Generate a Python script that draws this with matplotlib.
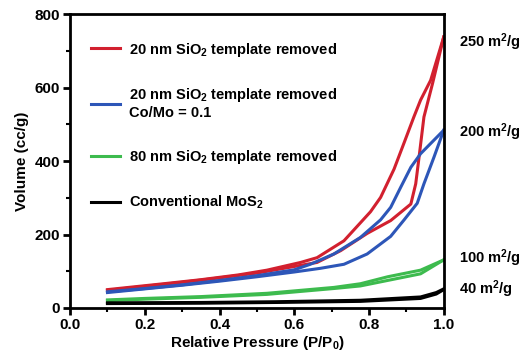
import numpy as np
import matplotlib
matplotlib.use('Agg')
from matplotlib import pyplot as plt
from matplotlib.ticker import MultipleLocator

plt.rcParams['font.family'] = 'Liberation Sans'
plt.rcParams['font.weight'] = 'bold'
plt.rcParams['mathtext.fontset'] = 'custom'
plt.rcParams['mathtext.rm'] = 'Liberation Sans:bold'
plt.rcParams['mathtext.bf'] = 'Liberation Sans:bold'
plt.rcParams['mathtext.default'] = 'bf'

# red: 20 nm SiO2 template removed
red_ads_p = [0.10, 0.20, 0.30, 0.40, 0.50, 0.60, 0.661, 0.724, 0.795, 0.858, 0.912, 0.925, 0.934, 0.947, 0.97, 1.00]
red_ads_v = [48, 59, 70, 82, 95, 113, 124, 156, 203, 238, 283, 338, 411, 520, 611, 738]
red_des_p = [1.00, 0.965, 0.938, 0.92, 0.894, 0.867, 0.831, 0.804, 0.733, 0.661, 0.617, 0.527, 0.45, 0.35, 0.25, 0.10]
red_des_v = [738, 620, 566, 520, 450, 378, 301, 262, 183, 137, 124, 103, 90, 77, 66, 50]

# blue: 20 nm SiO2 template removed, Co/Mo = 0.1
blue_ads_p = [0.10, 0.20, 0.30, 0.40, 0.50, 0.60, 0.67, 0.733, 0.795, 0.858, 0.894, 0.929, 0.947, 0.974, 1.00]
blue_ads_v = [42, 52, 62, 73, 85, 98, 108, 119, 147, 195, 240, 285, 338, 411, 484]
blue_des_p = [1.00, 0.938, 0.912, 0.885, 0.858, 0.831, 0.777, 0.706, 0.643, 0.60, 0.50, 0.40, 0.30, 0.20, 0.10]
blue_des_v = [484, 420, 383, 329, 274, 240, 192, 147, 119, 104, 88, 75, 63, 53, 44]

# green: 80 nm SiO2 template removed
green_ads_p = [0.10, 0.20, 0.35, 0.527, 0.706, 0.777, 0.85, 0.938, 1.00]
green_ads_v = [20, 24, 29, 37, 53, 60, 75, 93, 131]
green_des_p = [1.00, 0.938, 0.85, 0.777, 0.706, 0.527, 0.35, 0.20, 0.10]
green_des_v = [131, 103, 85, 66, 56, 40, 31, 26, 22]

# black: conventional MoS2
black_ads_p = [0.10, 0.35, 0.55, 0.777, 0.938, 0.98, 1.00]
black_ads_v = [12, 13, 15, 18, 26, 38, 50]
black_des_p = [1.00, 0.98, 0.938, 0.777, 0.55, 0.35, 0.10]
black_des_v = [52, 42, 30, 21, 17, 15, 14]

labels = ['20 nm SiO$_2$ template removed',
          '20 nm SiO$_2$ template removed\nCo/Mo = 0.1',
          '80 nm SiO$_2$ template removed',
          'Conventional MoS$_2$']
area_labels = ['250 m$^2$/g', '200 m$^2$/g', '100 m$^2$/g', '40 m$^2$/g']
area_label_v = [725, 478, 135, 52]

red = '#d2202f'
blue = '#2d56b8'
green = '#3dbb4e'
black = '#000000'
lw = 2.2

fig = plt.figure(figsize=(5.27, 3.54), dpi=100)
ax = fig.add_axes([0.133, 0.13, 0.709, 0.83])

ax.plot(red_ads_p, red_ads_v, color=red, lw=lw, label=labels[0])
ax.plot(red_des_p, red_des_v, color=red, lw=lw)
ax.plot(blue_ads_p, blue_ads_v, color=blue, lw=lw, label=labels[1])
ax.plot(blue_des_p, blue_des_v, color=blue, lw=lw)
ax.plot(green_ads_p, green_ads_v, color=green, lw=lw, label=labels[2])
ax.plot(green_des_p, green_des_v, color=green, lw=lw)
ax.plot(black_ads_p, black_ads_v, color=black, lw=lw, label=labels[3])
ax.plot(black_des_p, black_des_v, color=black, lw=lw)

ax.set_xlim(0, 1.0)
ax.set_ylim(0, 800)
ax.xaxis.set_major_locator(MultipleLocator(0.2))
ax.xaxis.set_minor_locator(MultipleLocator(0.1))
ax.yaxis.set_major_locator(MultipleLocator(200))
ax.yaxis.set_minor_locator(MultipleLocator(100))
ax.set_xticks([0, 0.2, 0.4, 0.6, 0.8, 1.0])
ax.set_xticklabels(['0.0', '0.2', '0.4', '0.6', '0.8', '1.0'])
ax.tick_params(which='major', direction='out', length=5, width=2, labelsize=11, pad=2)
ax.tick_params(which='minor', direction='out', length=3, width=1.5)
for s in ax.spines.values():
    s.set_linewidth(2)

ax.set_xlabel('Relative Pressure (P/P$_0$)', fontsize=11, fontweight='bold', labelpad=2)
ax.set_ylabel('Volume (cc/g)', fontsize=11, fontweight='bold', labelpad=4)

for t, v in zip(area_labels, area_label_v):
    ax.text(1.04, v, t, fontsize=10.5, fontweight='bold', va='center', ha='left',
            transform=ax.get_yaxis_transform(), clip_on=False)

leg = ax.legend(loc='upper left', bbox_to_anchor=(0.04, 0.93), frameon=False,
                fontsize=10.5, handlelength=2.0, handletextpad=0.6, labelspacing=1.9,
                borderaxespad=0)

fig.savefig('out.png', dpi=100)
